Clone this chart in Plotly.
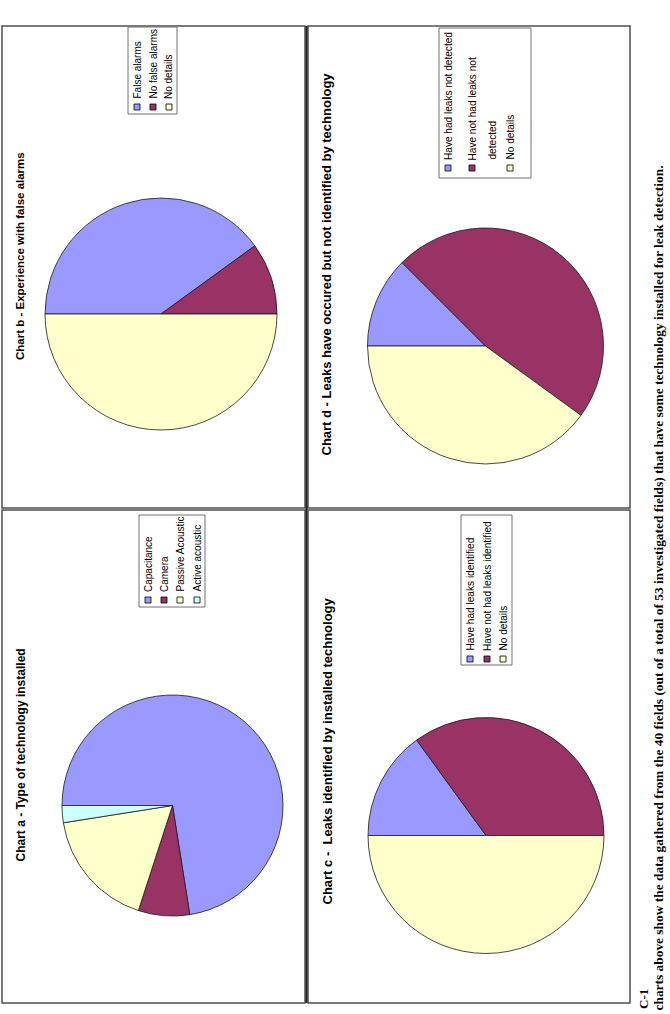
import plotly.graph_objects as go

W, H = 670, 1014

# ---------------- data ----------------
tech_labels = ["Capacitance", "Camera", "Passive Acoustic", "Active acoustic"]
tech_values = [29, 3, 7, 1]

alarm_labels = ["False alarms", "No false alarms", "No details"]
alarm_values = [16, 4, 20]

identified_labels = ["Have had leaks identified", "Have not had leaks identified", "No details"]
identified_values = [6, 14, 20]

undetected_labels = ["Have had leaks not detected", "Have not had leaks not<br>detected", "No details"]
undetected_values = [5, 19, 16]

title_a = "Chart a - Type of technology installed"
title_b = "Chart b - Experience with false alarms"
title_c = "Chart c -  Leaks identified by installed technology"
title_d = "Chart d - Leaks have occured but not identified by technology"

figure_label = "C-1"
caption = ("charts above show the data gathered from the 40 fields (out of a total of 53 "
           "investigated fields) that have some technology installed for leak detection.")

slice_colors = ["#9999FF", "#993366", "#FFFFCC", "#CCFFFF"]

# ---------------- layout (pixel positions) ----------------
def X(px):
    return px / W

def Y(py):
    return 1 - py / H

charts = [
    dict(labels=tech_labels, values=tech_values, title=title_a,
         center=(172.5, 805.5), r=110.5, title_x=20, title_bottom=864, title_size=12,
         box=(139, 515, 205, 607), item_x=[148, 164, 180, 197], marker_y=600,
         text_bottom=594, font_size=10, line_gap=15),
    dict(labels=alarm_labels, values=alarm_values, title=title_b,
         center=(161, 314), r=116, title_x=20, title_bottom=362, title_size=11.5,
         box=(128, 27, 177, 114), item_x=[137, 153, 169], marker_y=107,
         text_bottom=101, font_size=10, line_gap=15),
    dict(labels=identified_labels, values=identified_values, title=title_c,
         center=(486, 835.5), r=118, title_x=327, title_bottom=907, title_size=13,
         box=(461, 515, 512, 665), item_x=[470, 487, 503], marker_y=659,
         text_bottom=653, font_size=10.1, line_gap=15),
    dict(labels=undetected_labels, values=undetected_values, title=title_d,
         center=(485.5, 346), r=118, title_x=326, title_bottom=458, title_size=13,
         box=(439, 28, 531, 178), item_x=[448, 472, 510], marker_y=168,
         text_bottom=162, font_size=10.1, line_gap=20),
]

fig = go.Figure()
shapes = []
annotations = []

sans = "Arial, Liberation Sans, sans-serif"
serif = "Times New Roman, Liberation Serif, serif"

for ch in charts:
    cx, cy = ch["center"]
    r = ch["r"]
    n = len(ch["values"])
    fig.add_trace(go.Pie(
        labels=[l.replace("<br>", " ") for l in ch["labels"]],
        values=ch["values"],
        sort=False,
        direction="clockwise",
        rotation=-90,
        textinfo="none",
        hoverinfo="label+value+percent",
        showlegend=False,
        marker=dict(colors=slice_colors[:n], line=dict(color="#1a1a1a", width=0.8)),
        domain=dict(x=[X(cx - r), X(cx + r)], y=[Y(cy + r), Y(cy - r)]),
    ))

    # title
    annotations.append(dict(
        text="<b>" + ch["title"] + "</b>", x=X(ch["title_x"]), y=Y(ch["title_bottom"]),
        xref="paper", yref="paper", xanchor="center", yanchor="bottom",
        textangle=-90, showarrow=False,
        font=dict(family=sans, size=ch["title_size"], color="#000000"),
    ))

    # legend box
    bx0, by0, bx1, by1 = ch["box"]
    shapes.append(dict(type="rect", xref="paper", yref="paper",
                       x0=X(bx0), x1=X(bx1), y0=Y(by1), y1=Y(by0),
                       line=dict(color="#707070", width=1), fillcolor="#FFFFFF", layer="above"))
    fs = ch["font_size"]
    for i, lab in enumerate(ch["labels"]):
        ix = ch["item_x"][i]
        ms = 3
        shapes.append(dict(type="rect", xref="paper", yref="paper",
                           x0=X(ix - ms), x1=X(ix + ms),
                           y0=Y(ch["marker_y"] + ms), y1=Y(ch["marker_y"] - ms),
                           line=dict(color="#000000", width=0.8),
                           fillcolor=slice_colors[i], layer="above"))
        for k, part in enumerate(lab.split("<br>")):
            annotations.append(dict(
                text=part, x=X(ix + k * ch["line_gap"]), y=Y(ch["text_bottom"]),
                xref="paper", yref="paper", xanchor="center", yanchor="bottom",
                textangle=-90, showarrow=False,
                font=dict(family=sans, size=fs, color="#000000"),
            ))

# chart frames
frames = [(2, 26, 305, 508), (308, 26, 630, 508), (2, 510, 305, 1003), (308, 510, 630, 1003)]
for (x0, y0, x1, y1) in frames:
    shapes.append(dict(type="rect", xref="paper", yref="paper",
                       x0=X(x0), x1=X(x1), y0=Y(y1), y1=Y(y0),
                       line=dict(color="#505050", width=1.5), layer="below"))
# thick central divider
shapes.append(dict(type="line", xref="paper", yref="paper",
                   x0=X(306.5), x1=X(306.5), y0=Y(1003), y1=Y(26),
                   line=dict(color="#202020", width=2)))

# caption
annotations.append(dict(
    text="<b>" + figure_label + "</b>", x=X(643), y=Y(1011),
    xref="paper", yref="paper", xanchor="center", yanchor="bottom",
    textangle=-90, showarrow=False,
    font=dict(family=serif, size=13, color="#000000"),
))
annotations.append(dict(
    text="<b>" + caption + "</b>", x=X(658), y=Y(1013),
    xref="paper", yref="paper", xanchor="center", yanchor="bottom",
    textangle=-90, showarrow=False,
    font=dict(family=serif, size=13.4, color="#000000"),
))

fig.update_layout(
    width=W, height=H,
    margin=dict(l=0, r=0, t=0, b=0),
    paper_bgcolor="#FFFFFF", plot_bgcolor="#FFFFFF",
    shapes=shapes, annotations=annotations,
)

fig.write_html("out.html")
